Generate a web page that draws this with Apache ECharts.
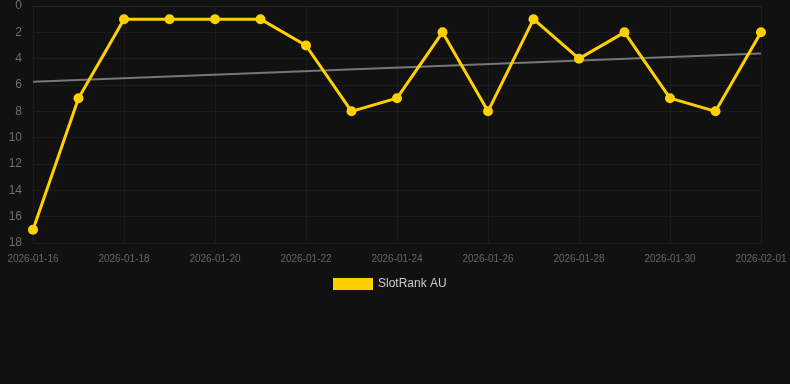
<!DOCTYPE html>
<html>
<head>
<meta charset="utf-8">
<script src="https://cdn.jsdelivr.net/npm/echarts@6/dist/echarts.min.js"></script>
<style>
  html, body { margin: 0; padding: 0; background: #111111; }
  #chart { width: 790px; height: 384px; }
</style>
</head>
<body>
<div id="chart"></div>
<script>
// dates on the x axis
var dates = [
  "2026-01-16", "2026-01-17", "2026-01-18", "2026-01-19", "2026-01-20",
  "2026-01-21", "2026-01-22", "2026-01-23", "2026-01-24", "2026-01-25",
  "2026-01-26", "2026-01-27", "2026-01-28", "2026-01-29", "2026-01-30",
  "2026-01-31", "2026-02-01"
];
// rank values (lower is better)
var ranks = [17, 7, 1, 1, 1, 1, 3, 8, 7, 2, 8, 1, 4, 2, 7, 8, 2];
// trend line end points (first and last day)
var trendStart = 5.75;
var trendEnd = 3.6;

var trend = dates.map(function (d, i) {
  if (i === 0) return trendStart;
  if (i === dates.length - 1) return trendEnd;
  return null;
});

var myChart = echarts.init(document.getElementById("chart"), null, { renderer: "canvas" });
var option = {
  backgroundColor: "#111111",
  animation: false,
  grid: { left: 33, right: 29, top: 6, bottom: 141 },
  legend: {
    top: 278,
    left: 333,
    padding: 0,
    itemWidth: 40,
    itemHeight: 12,
    itemGap: 6,
    data: [{ name: "SlotRank AU", icon: "rect" }],
    textStyle: { color: "#cccccc", fontSize: 12, fontFamily: "Liberation Sans, Arial, sans-serif" }
  },
  xAxis: {
    type: "category",
    data: dates,
    boundaryGap: false,
    axisLine: { show: true, lineStyle: { color: "#262626" } },
    axisTick: { show: false },
    axisLabel: {
      interval: 1,
      color: "#666666",
      fontSize: 10,
      margin: 11,
      fontFamily: "Liberation Sans, Arial, sans-serif"
    },
    splitLine: { show: true, interval: 1, lineStyle: { color: "#1c1c1c" } }
  },
  yAxis: {
    type: "value",
    inverse: true,
    min: 0,
    max: 18,
    interval: 2,
    axisLine: { show: false },
    axisTick: { show: false },
    axisLabel: {
      color: "#6e6e6e",
      fontSize: 12,
      margin: 11,
      fontFamily: "Liberation Sans, Arial, sans-serif"
    },
    splitLine: { lineStyle: { color: "#1c1c1c" } }
  },
  series: [
    {
      name: "trend",
      type: "line",
      data: trend,
      connectNulls: true,
      symbol: "none",
      lineStyle: { color: "#777777", width: 2 },
      z: 1
    },
    {
      name: "SlotRank AU",
      type: "line",
      data: ranks,
      symbol: "circle",
      symbolSize: 10,
      color: "#FFD000",
      lineStyle: { color: "#FFD000", width: 3 },
      itemStyle: { color: "#FFD000" },
      z: 2
    }
  ]
};
myChart.setOption(option);
</script>
</body>
</html>
